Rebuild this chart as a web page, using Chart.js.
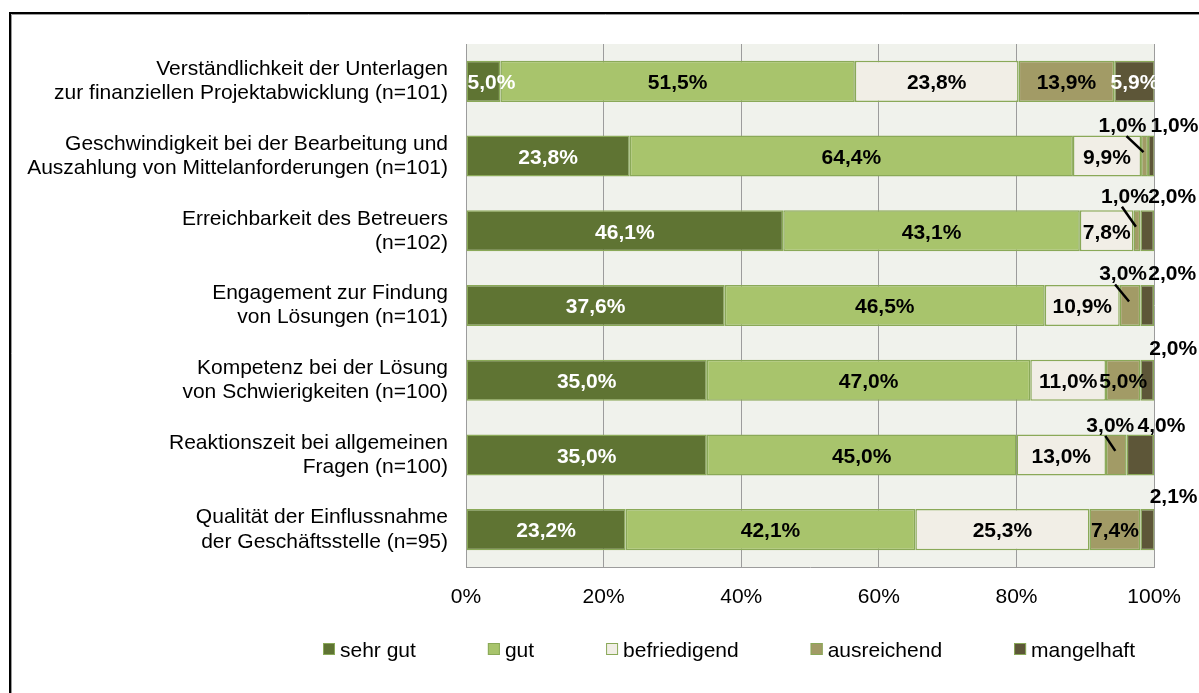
<!DOCTYPE html>
<html>
<head>
<meta charset="utf-8">
<script src="https://cdn.jsdelivr.net/npm/chart.js@4/dist/chart.umd.min.js"></script>
<style>
  html, body { margin: 0; padding: 0; background: #fff; overflow: hidden; }
  canvas { display: block; }
</style>
</head>
<body>
<canvas id="c" width="1199" height="693"></canvas>
<script>
// Survey ratings per aspect (percent of answers)
const categories = [
  ['Verständlichkeit der Unterlagen', 'zur finanziellen Projektabwicklung (n=101)'],
  ['Geschwindigkeit bei der Bearbeitung und', 'Auszahlung von Mittelanforderungen (n=101)'],
  ['Erreichbarkeit des Betreuers', '(n=102)'],
  ['Engagement zur Findung', 'von Lösungen (n=101)'],
  ['Kompetenz bei der Lösung', 'von Schwierigkeiten (n=100)'],
  ['Reaktionszeit bei allgemeinen', 'Fragen (n=100)'],
  ['Qualität der Einflussnahme', 'der Geschäftsstelle (n=95)']
];
const seriesNames = ['sehr gut', 'gut', 'befriedigend', 'ausreichend', 'mangelhaft'];
const sehrGut      = [5.0, 23.8, 46.1, 37.6, 35.0, 35.0, 23.2];
const gut          = [51.5, 64.4, 43.1, 46.5, 47.0, 45.0, 42.1];
const befriedigend = [23.8, 9.9, 7.8, 10.9, 11.0, 13.0, 25.3];
const ausreichend  = [13.9, 1.0, 1.0, 3.0, 5.0, 3.0, 7.4];
const mangelhaft   = [5.9, 1.0, 2.0, 2.0, 2.0, 4.0, 2.1];
const tickLabels   = ['0%', '20%', '40%', '60%', '80%', '100%'];

const FONT = "'Liberation Sans', Arial, sans-serif";
const seriesValues = [sehrGut, gut, befriedigend, ausreichend, mangelhaft];
const fills = ['#5f7433', '#a8c46c', '#f1eee6', '#a29b66', '#5d5638'];
const labelColors = ['#ffffff', '#000000', '#000000', '#000000', '#ffffff'];
const edge = '#8aa958';

const fmt = v => v.toFixed(1).replace('.', ',') + '%';

// Small segments get their label above the bar ("row-series" keys);
// sx is where the leader line starts, relative to the label centre
const outsideLabels = {
  '1-3': { dx: -22, dy: -31, leader: true, sx: 4 },
  '1-4': { dx: 23, dy: -31 },
  '2-3': { dx: -12, dy: -35, leader: true, sx: -3 },
  '2-4': { dx: 25, dy: -35 },
  '3-3': { dx: -7, dy: -32, leader: true, sx: -8 },
  '3-4': { dx: 25, dy: -32 },
  '4-4': { dx: 26, dy: -32 },
  '5-3': { dx: -6, dy: -30, leader: true, sx: -5 },
  '5-4': { dx: 21, dy: -30 },
  '6-4': { dx: 26, dy: -33 }
};
const insideShift = { '0-0': 8 };

const backgroundPlugin = {
  id: 'plotBackground',
  beforeDraw(chart) {
    const { ctx, chartArea: a } = chart;
    ctx.save();
    ctx.fillStyle = '#ffffff';
    ctx.fillRect(0, 0, chart.width, chart.height);
    ctx.fillStyle = '#f0f2ec';
    ctx.fillRect(a.left, a.top, a.right - a.left, a.bottom - a.top);
    ctx.restore();
  }
};

const valueLabelPlugin = {
  id: 'valueLabels',
  afterDatasetsDraw(chart) {
    const { ctx, chartArea: a } = chart;
    ctx.save();
    ctx.font = 'bold 21px ' + FONT;
    ctx.textAlign = 'center';
    ctx.textBaseline = 'middle';
    chart.data.datasets.forEach((ds, di) => {
      const meta = chart.getDatasetMeta(di);
      meta.data.forEach((bar, ri) => {
        const v = ds.data[ri];
        const cx = (bar.x + bar.base) / 2;
        const key = ri + '-' + di;
        const out = outsideLabels[key];
        if (out) {
          const lx = cx + out.dx, ly = bar.y + out.dy;
          ctx.fillStyle = '#000';
          ctx.fillText(fmt(v), lx, ly + 1);
          if (out.leader) {
            ctx.strokeStyle = '#000';
            ctx.lineWidth = 2.5;
            ctx.beginPath();
            ctx.moveTo(lx + out.sx, ly + 11);
            ctx.lineTo(cx - 1, bar.y - 4);
            ctx.stroke();
          }
        } else {
          ctx.save();
          ctx.beginPath();
          ctx.rect(a.left, a.top, a.right - a.left + 1, a.bottom - a.top);
          ctx.clip();
          ctx.fillStyle = labelColors[di];
          ctx.fillText(fmt(v), cx + (insideShift[key] || 0), bar.y + 2);
          ctx.restore();
        }
      });
    });
    ctx.restore();
  }
};

const legendPlugin = {
  id: 'bottomLegend',
  afterDraw(chart) {
    const { ctx } = chart;
    ctx.save();
    ctx.font = '21px ' + FONT;
    ctx.textBaseline = 'middle';
    ctx.textAlign = 'left';
    let x = 323;
    const y = 643;
    chart.data.datasets.forEach(ds => {
      ctx.fillStyle = ds.backgroundColor;
      ctx.fillRect(x, y, 12, 12);
      ctx.strokeStyle = edge;
      ctx.lineWidth = 1;
      ctx.strokeRect(x + 0.5, y + 0.5, 11, 11);
      ctx.fillStyle = '#000';
      ctx.fillText(ds.label, x + 17, y + 8);
      x += 17 + ctx.measureText(ds.label).width + 72;
    });
    ctx.restore();
  }
};

const framePlugin = {
  id: 'outerFrame',
  afterDraw(chart) {
    const { ctx } = chart;
    ctx.save();
    ctx.strokeStyle = '#000';
    ctx.lineWidth = 2;
    ctx.beginPath();
    ctx.moveTo(10, chart.height);
    ctx.lineTo(10, 13);
    ctx.lineTo(chart.width, 13);
    ctx.stroke();
    ctx.strokeStyle = '#9a9a9a';
    ctx.lineWidth = 1;
    ctx.beginPath();
    ctx.moveTo(11.5, chart.height);
    ctx.lineTo(11.5, 14.5);
    ctx.lineTo(chart.width, 14.5);
    ctx.stroke();
    ctx.restore();
  }
};

new Chart(document.getElementById('c'), {
  type: 'bar',
  data: {
    labels: categories,
    datasets: seriesNames.map((name, i) => ({
      label: name,
      data: seriesValues[i],
      backgroundColor: fills[i],
      borderColor: edge,
      borderWidth: 1.5,
      borderSkipped: false,
      barPercentage: 0.55,
      categoryPercentage: 1
    }))
  },
  options: {
    indexAxis: 'y',
    responsive: false,
    animation: false,
    devicePixelRatio: 1,
    layout: { padding: { top: 44, right: 44, left: 0, bottom: 0 } },
    plugins: { legend: { display: false }, tooltip: { enabled: false } },
    scales: {
      x: {
        stacked: true,
        min: 0,
        max: 100,
        ticks: {
          stepSize: 20,
          padding: 18,
          color: '#000',
          font: { family: FONT, size: 21 },
          callback: (v, i) => tickLabels[i]
        },
        grid: { color: '#9c9c9c', lineWidth: 1, drawTicks: false },
        border: { color: '#9c9c9c' },
        afterFit: s => { s.height = 126; }
      },
      y: {
        stacked: true,
        ticks: {
          padding: 18,
          color: '#000',
          font: { family: FONT, size: 21, lineHeight: 1.15 }
        },
        grid: { display: false, drawTicks: false },
        border: { color: '#9c9c9c' },
        afterFit: s => { s.width = 466; }
      }
    }
  },
  plugins: [backgroundPlugin, valueLabelPlugin, legendPlugin, framePlugin]
});
</script>
</body>
</html>
